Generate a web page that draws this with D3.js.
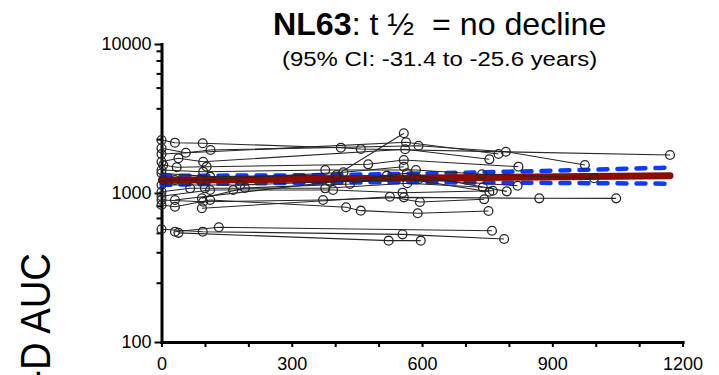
<!DOCTYPE html>
<html>
<head>
<meta charset="utf-8">
<script src="https://cdn.jsdelivr.net/npm/d3@7"></script>
<style>
  html, body { margin: 0; padding: 0; background: #fff; }
  svg { display: block; font-family: "Liberation Sans", Arial, Helvetica, sans-serif; }
</style>
</head>
<body>
<svg id="chart" width="719" height="375"></svg>
<script>
// Axis ticks
const xMajorTicks = [0, 300, 600, 900, 1200];
const xMinorTicks = [100, 200, 400, 500, 700, 800, 1000, 1100];
const yMajorTicks = [100, 1000, 10000];
const yMinorTicks = [250, 400, 540, 680, 820, 2300, 3700, 5100, 6350, 7750, 9000];

// Per-subject visits: days since first sample, and AUC at each visit
const visitDays = [
  [0, 31, 95, 413, 459, 1171],
  [0, 56, 113, 592, 793, 975],
  [0, 563, 776],
  [0, 39, 96, 561, 755],
  [4, 35, 104, 476, 558, 822],
  [0, 96, 377, 586, 738, 996],
  [0, 112, 403, 558],
  [4, 31, 89, 419, 558],
  [0, 181, 388, 592, 820],
  [0, 66, 100, 377, 566, 740],
  [0, 112, 165, 395, 555, 763],
  [0, 96, 372, 558, 870, 1047],
  [0, 31, 112, 425, 459, 590, 753],
  [0, 95, 555, 789],
  [31, 132, 761],
  [39, 523, 597],
  [93, 526, 595, 743],
  [93, 192, 434, 519, 755],
  [31, 565, 795]
];
const aucValues = [
  [2268, 2176, 2156, 2014, 1974, 1799],
  [1995, 1864, 1944, 2077, 1893, 1541],
  [1827, 2189, 1827],
  [1622, 1710, 1622, 1965, 1683],
  [1541, 1488, 1502, 1558, 1665, 1502],
  [1427, 1390, 1427, 1427, 1335, 1256],
  [1356, 1287, 1321, 2516],
  [1222, 1222, 1222, 1377, 1502],
  [1132, 1132, 1191, 1236, 1119],
  [1020, 1075, 1075, 1075, 1162, 1092],
  [950, 1047, 1047, 1047, 1005, 1036],
  [898, 874, 898, 935, 921, 921],
  [831, 809, 898, 802, 761, 731, 757],
  [571, 550, 528, 491],
  [550, 589, 558],
  [540, 479, 479],
  [790, 944, 870, 907],
  [921, 1080, 1149, 1307, 1020],
  [898, 1356, 1026]
];

// Mixed-model fit and its 95% confidence band
const fitDays = [0, 1171];
const fitValues = [1217, 1307];
const ciDays = [0, 200, 400, 600, 800, 1000, 1171];
const ciUpper = [1307, 1309, 1323, 1352, 1390, 1436, 1479];
const ciLower = [1133, 1160, 1176, 1180, 1173, 1164, 1154];

const yTitle = "IgG-D AUC";

const svg = d3.select("#chart");
const x = d3.scaleLinear().domain([0, 1200]).range([161.5, 682.6]);
const y = d3.scaleLog().domain([100, 10000]).range([342, 44]);

// Axes
const xAxisG = svg.append("g").attr("transform", "translate(0,342)");
xAxisG.append("g")
  .call(d3.axisBottom(x).tickValues(xMinorTicks).tickSize(5).tickSizeOuter(0).tickFormat(""))
  .call(g => g.select(".domain").remove());
xAxisG.append("g")
  .call(d3.axisBottom(x).tickValues(xMajorTicks).tickSize(5).tickSizeOuter(0).tickFormat(d3.format("d")))
  .call(g => g.selectAll("text").attr("y", 28).attr("dy", null));

const yAxisG = svg.append("g").attr("transform", "translate(161.5,0)");
yAxisG.append("g")
  .call(d3.axisLeft(y).tickValues(yMinorTicks).tickSize(5).tickSizeOuter(0).tickFormat(""))
  .call(g => g.select(".domain").remove());
yAxisG.append("g")
  .call(d3.axisLeft(y).tickValues(yMajorTicks).tickSize(7).tickPadding(3).tickSizeOuter(0).tickFormat(d3.format("d")));

svg.selectAll(".domain").attr("stroke", "#000").attr("stroke-width", 3).attr("stroke-linecap", "square");
svg.selectAll(".tick line").attr("stroke", "#000").attr("stroke-width", 2);
svg.selectAll(".tick text").attr("font-size", 18).attr("fill", "#000")
  .attr("font-family", "'Liberation Sans', Arial, Helvetica, sans-serif");

// Confidence band (dashed) and fitted line
const line = d3.line().x(d => x(d[0])).y(d => y(d[1]));
const bandLine = d3.line().x(d => x(d[0])).y(d => y(d[1])).curve(d3.curveMonotoneX);

[ciUpper, ciLower].forEach(vals => {
  svg.append("path")
    .datum(d3.zip(ciDays, vals))
    .attr("d", bandLine)
    .attr("fill", "none")
    .attr("stroke", "#0b3bff")
    .attr("stroke-width", 4.5)
    .attr("stroke-linecap", "round")
    .attr("stroke-dasharray", "9,10");
});

svg.append("path")
  .datum(d3.zip(fitDays, fitValues))
  .attr("d", line)
  .attr("fill", "none")
  .attr("stroke", "#8c0c00")
  .attr("stroke-width", 7)
  .attr("stroke-linecap", "round");

// Individual subject trajectories
const subjects = visitDays.map((days, i) => d3.zip(days, aucValues[i]));
const subjG = svg.append("g");
subjG.selectAll("path")
  .data(subjects)
  .join("path")
  .attr("d", line)
  .attr("fill", "none")
  .attr("stroke", "#262626")
  .attr("stroke-width", 1.1);

subjG.selectAll("circle")
  .data(subjects.flat())
  .join("circle")
  .attr("cx", d => x(d[0]))
  .attr("cy", d => y(d[1]))
  .attr("r", 4.4)
  .attr("fill", "none")
  .attr("stroke", "#262626")
  .attr("stroke-width", 1.3);

// Titles
const title = svg.append("text")
  .attr("transform", "translate(273,35) scale(1.055,1)")
  .attr("font-size", 30.5)
  .attr("fill", "#000")
  .style("white-space", "pre");
title.append("tspan").attr("font-weight", "bold").text("NL63");
title.append("tspan").text(": t \u00BD  = no decline");

svg.append("text")
  .attr("transform", "translate(282,66) scale(1.14,1)")
  .attr("font-size", 21)
  .attr("fill", "#000")
  .text("(95% CI: -31.4 to -25.6 years)");

// Y-axis title: large rotated label running off the bottom-left edge;
// the tail "D AUC" is condensed to a 117px run ending at y = 253
const yLab = svg.append("text")
  .attr("text-anchor", "end")
  .attr("font-size", 42)
  .attr("fill", "#000")
  .attr("transform", "translate(50,253) rotate(-90)")
  .text(yTitle);
const tailLen = yLab.node().getSubStringLength(yTitle.length - 5, 5);
yLab.attr("transform", `translate(50,253) rotate(-90) scale(${117 / tailLen},1)`);
</script>
</body>
</html>
